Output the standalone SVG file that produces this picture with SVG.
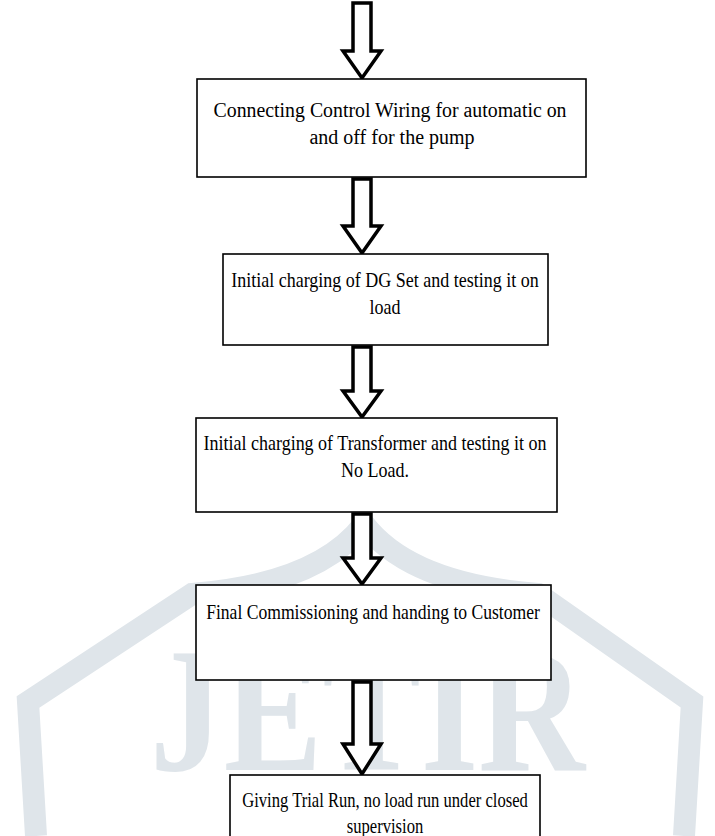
<svg xmlns="http://www.w3.org/2000/svg" width="715" height="836" viewBox="0 0 715 836">
<style>
.box{fill:#fff;stroke:#000;stroke-width:1.6}
.arr{fill:#fff;stroke:#000;stroke-width:3.5;stroke-linejoin:miter}
.t{font-family:"Liberation Serif","Times New Roman",serif;font-size:20px;fill:#000;text-anchor:middle}
.wm{fill:none;stroke:#dfe5ea;stroke-width:22;stroke-linejoin:miter}
.wmt{font-family:"Liberation Serif","Times New Roman",serif;font-size:178px;font-weight:bold;fill:#dfe5ea}
</style>
<rect width="715" height="836" fill="#fff"/>
<g id="watermark">
<path class="wm" d="M36,836 L28,702 L192,594 Q318,584 364,524 Q410,584 538,594 L692,702 L684,836"/>
<text class="wmt" x="150" y="770" textLength="435" lengthAdjust="spacingAndGlyphs">JETIR</text>
</g>
<g id="connectors">
<path class="arr" d="M353,3 H371 V51 H381 L362,78 L343,51 H353 Z"/>
<path class="arr" d="M353,179 H371 V226 H381 L362,253 L343,226 H353 Z"/>
<path class="arr" d="M353,347 H371 V391 H381 L362,417 L343,391 H353 Z"/>
<path class="arr" d="M353,514 H371 V558 H381 L362,584 L343,558 H353 Z"/>
<path class="arr" d="M353,682 H371 V744 H381 L362,774 L343,744 H353 Z"/>
</g>
<g id="node1">
<rect class="box" x="197" y="79" width="389" height="98"/>
<text class="t" x="390" y="117" textLength="353" lengthAdjust="spacingAndGlyphs">Connecting Control Wiring for automatic on</text>
<text class="t" x="392" y="144">and off for the pump</text>
</g>
<g id="node2">
<rect class="box" x="223" y="254" width="325" height="91"/>
<g transform="translate(385,0) scale(0.9,1)">
<text class="t" x="0" y="287">Initial charging of DG Set and testing it on</text>
<text class="t" x="0" y="314">load</text>
</g>
</g>
<g id="node3">
<rect class="box" x="196" y="418" width="361" height="94"/>
<g transform="translate(375,0) scale(0.9,1)">
<text class="t" x="0" y="450">Initial charging of Transformer and testing it on</text>
<text class="t" x="0" y="477">No Load.</text>
</g>
</g>
<g id="node4">
<rect class="box" x="196" y="585" width="355" height="95"/>
<g transform="translate(373,0) scale(0.88,1)">
<text class="t" x="0" y="619">Final Commissioning and handing to Customer</text>
</g>
</g>
<g id="node5">
<rect class="box" x="230" y="775" width="310" height="80"/>
<g transform="translate(385,0) scale(0.83,1)">
<text class="t" x="0" y="807">Giving Trial Run, no load run under closed</text>
<text class="t" x="0" y="833">supervision</text>
</g>
</g>
</svg>
